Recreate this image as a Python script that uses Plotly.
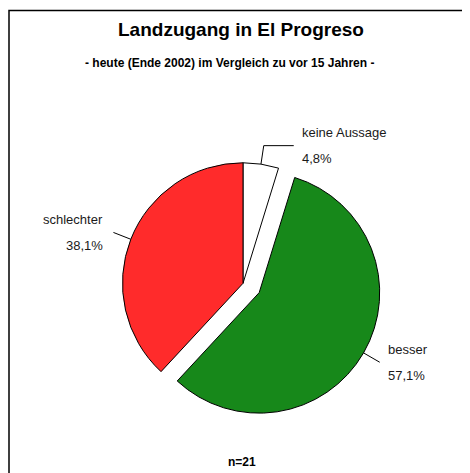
import math
import plotly.graph_objects as go

# Daten (n=21, Anzahl Antworten)
labels = ["keine Aussage", "besser", "schlechter"]
counts = [1, 12, 8]
colors = ["#ffffff", "#17881a", "#ff2b2b"]
pulls = [0, 0.155, 0]

title = "Landzugang in El Progreso"
subtitle = "- heute (Ende 2002) im Vergleich zu vor 15 Jahren -"
footnote = "n=21"

W, H = 470, 473
PAGE = 8  # Rand der HTML-Seite
FONT = "Liberation Sans, Arial, sans-serif"

# Lage des Kreises in Bildpixeln
cx, cy = 243.0, 283.3
half = 139.2
r = half / (1 + max(pulls))


def px(x):
    return (x - PAGE) / W


def py(y):
    return 1 - (y - PAGE) / H


fig = go.Figure(go.Pie(
    labels=labels,
    values=counts,
    sort=False,
    direction="clockwise",
    rotation=0,
    pull=pulls,
    marker=dict(colors=colors, line=dict(color="black", width=1)),
    textinfo="none",
    hoverinfo="label+percent",
    showlegend=False,
    domain=dict(x=[px(cx - half), px(cx + half)],
                y=[py(cy + half), py(cy - half)]),
))

shapes = []
annotations = []

# Beschriftungen mit Führungslinien, aus den Winkeln der Segmente
total = sum(counts)
cum = 0.0
for lab, c, p in zip(labels, counts, pulls):
    frac = c / total
    mid = (cum + frac / 2) * 2 * math.pi
    cum += frac
    dx, dy = math.sin(mid), -math.cos(mid)
    ox, oy = cx + p * r * dx, cy + p * r * dy
    ax, ay = ox + r * dx, oy + r * dy
    bx, by = ox + 1.155 * r * dx, oy + 1.155 * r * dy
    right = dx >= 0
    sgn = 1 if right else -1
    path = f"M{px(ax)},{py(ay)} L{px(bx)},{py(by)}"
    ex, ey = bx, by
    if abs(dx) < 0.5:
        ex = bx + sgn * 30
        path += f" L{px(ex)},{py(ey)}"
    shapes.append(dict(type="path", xref="paper", yref="paper", path=path,
                       line=dict(color="black", width=1)))
    tx = ex + (6 if right else -8)
    anchor = "left" if right else "right"
    pct = f"{frac * 100:.1f}".replace(".", ",") + "%"
    for txt, off in ((lab, -13), (pct, 13)):
        annotations.append(dict(
            x=px(tx), y=py(ey + off), xref="paper", yref="paper",
            text=txt, showarrow=False, xanchor=anchor, yanchor="middle",
            font=dict(family=FONT, size=13, color="#1a1a1a"),
        ))

annotations += [
    dict(x=px(240.5), y=py(30), text=f"<b>{title}</b>",
         font=dict(family=FONT, size=19, color="black")),
    dict(x=px(229.5), y=py(63.3), text=f"<b>{subtitle}</b>",
         font=dict(family=FONT, size=12, color="black")),
    dict(x=px(241.7), y=py(461.7), text=f"<b>{footnote}</b>",
         font=dict(family=FONT, size=12, color="black")),
]
for a in annotations[-3:]:
    a.update(xref="paper", yref="paper", showarrow=False,
             xanchor="center", yanchor="middle")

# Rahmen
shapes.append(dict(type="rect", xref="paper", yref="paper",
                   x0=px(9), x1=1.05, y0=-0.05, y1=py(10.5),
                   line=dict(color="black", width=1.5)))

fig.update_layout(
    width=W, height=H,
    margin=dict(l=0, r=0, t=0, b=0),
    paper_bgcolor="white",
    plot_bgcolor="white",
    shapes=shapes,
    annotations=annotations,
    separators=",.",
)

fig.write_html("out.html")
